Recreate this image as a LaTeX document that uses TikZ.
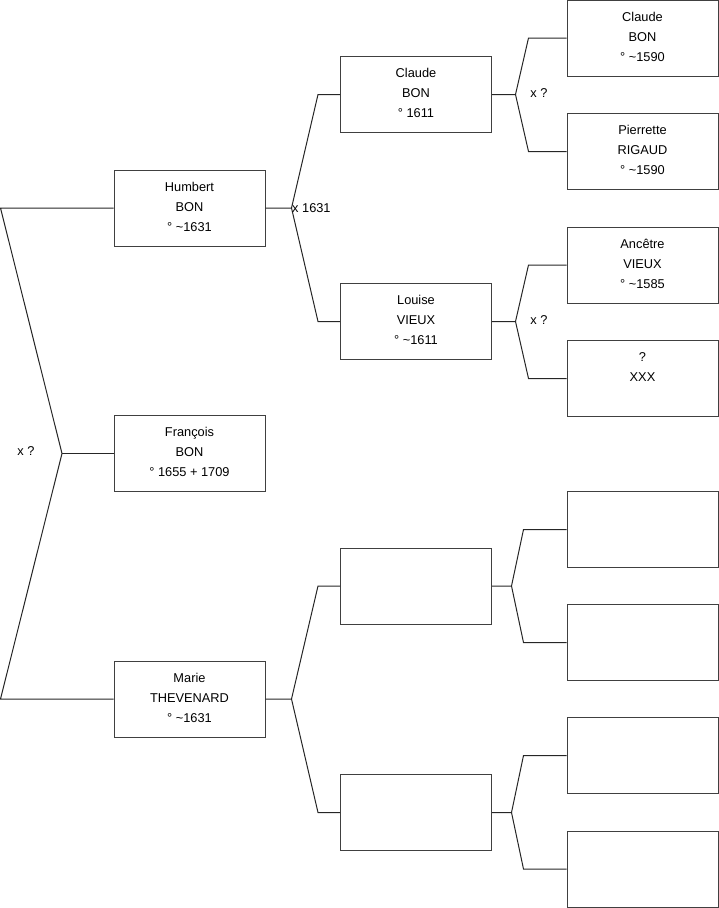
\documentclass[tikz,border=0pt]{standalone}
\usepackage{fontspec}
\setmainfont{Liberation Sans}
\begin{document}
\begin{tikzpicture}[x=1pt,y=-1pt,
  box/.style={draw=black!75,line width=1pt,minimum width=151pt,minimum height=76pt,inner sep=0pt,fill=white},
  txt/.style={align=center,inner sep=0pt,anchor=north,font=\fontsize{12.8}{20}\selectfont},
  conn/.style={draw=black!85,line width=1pt},
  lbl/.style={inner sep=1pt,font=\fontsize{12.8}{14}\selectfont}]
\useasboundingbox (0,0) rectangle (719,908);
% level 1
\node[box] (hb) at (189.5,208) {};
\node[box] (fr) at (189.5,453.5) {};
\node[box] (ma) at (189.5,699) {};
% level 2
\node[box] (c2) at (416,94.5) {};
\node[box] (lv) at (416,321.5) {};
\node[box] (e1) at (416,586) {};
\node[box] (e2) at (416,812.5) {};
% level 3
\node[box] (a1) at (642.5,38) {};
\node[box] (a2) at (642.5,151.5) {};
\node[box] (a3) at (642.5,265) {};
\node[box] (a4) at (642.5,378.5) {};
\node[box] (a5) at (642.5,529.5) {};
\node[box] (a6) at (642.5,642.5) {};
\node[box] (a7) at (642.5,755.5) {};
\node[box] (a8) at (642.5,869) {};
% texts
\node[txt] at ([yshift=-7.5]hb.north) {\strut Humbert\\BON\\° \textasciitilde1631};
\node[txt] at ([yshift=-7.5]fr.north) {\strut François\\BON\\° 1655 + 1709};
\node[txt] at ([yshift=-7.5]ma.north) {\strut Marie\\THEVENARD\\° \textasciitilde1631};
\node[txt] at ([yshift=-7.5]c2.north) {\strut Claude\\BON\\° 1611};
\node[txt] at ([yshift=-7.5]lv.north) {\strut Louise\\VIEUX\\° \textasciitilde1611};
\node[txt] at ([yshift=-7.5]a1.north) {\strut Claude\\BON\\° \textasciitilde1590};
\node[txt] at ([yshift=-7.5]a2.north) {\strut Pierrette\\RIGAUD\\° \textasciitilde1590};
\node[txt] at ([yshift=-7.5]a3.north) {\strut Ancêtre\\VIEUX\\° \textasciitilde1585};
\node[txt] at ([yshift=-7.5]a4.north) {\strut ?\\XXX};
% left connector
\coordinate (l1) at (0.5,208);
\coordinate (l2) at (0.5,699);
\coordinate (j0) at (62,453.5);
\draw[conn] (hb.west) -- (l1) -- (j0) -- (l2) -- (ma.west);
\draw[conn] (j0) -- (fr.west);
\node[lbl] at (26,451) {x ?};
% level 1 -> level 2
\draw[conn] (hb.east) -- ++(26,0) coordinate (j1) -- ([xshift=-22]c2.west) -- (c2.west);
\draw[conn] (j1) -- ([xshift=-22]lv.west) -- (lv.west);
\node[lbl,anchor=west,inner sep=0.5pt] at (j1) {x 1631};
\draw[conn] (ma.east) -- ++(26,0) coordinate (j3) -- ([xshift=-22]e1.west) -- (e1.west);
\draw[conn] (j3) -- ([xshift=-22]e2.west) -- (e2.west);
% level 2 -> level 3
\draw[conn] (c2.east) -- ++(23.5,0) coordinate (k1) -- ([xshift=-38]a1.west) -- (a1.west);
\draw[conn] (k1) -- ([xshift=-38]a2.west) -- (a2.west);
\node[lbl] at (539,93) {x ?};
\draw[conn] (lv.east) -- ++(23.5,0) coordinate (k2) -- ([xshift=-38]a3.west) -- (a3.west);
\draw[conn] (k2) -- ([xshift=-38]a4.west) -- (a4.west);
\node[lbl] at (539,320) {x ?};
\draw[conn] (e1.east) -- ++(19.5,0) coordinate (k3) -- ([xshift=-43]a5.west) -- (a5.west);
\draw[conn] (k3) -- ([xshift=-43]a6.west) -- (a6.west);
\draw[conn] (e2.east) -- ++(19.5,0) coordinate (k4) -- ([xshift=-43]a7.west) -- (a7.west);
\draw[conn] (k4) -- ([xshift=-43]a8.west) -- (a8.west);
\end{tikzpicture}
\end{document}
